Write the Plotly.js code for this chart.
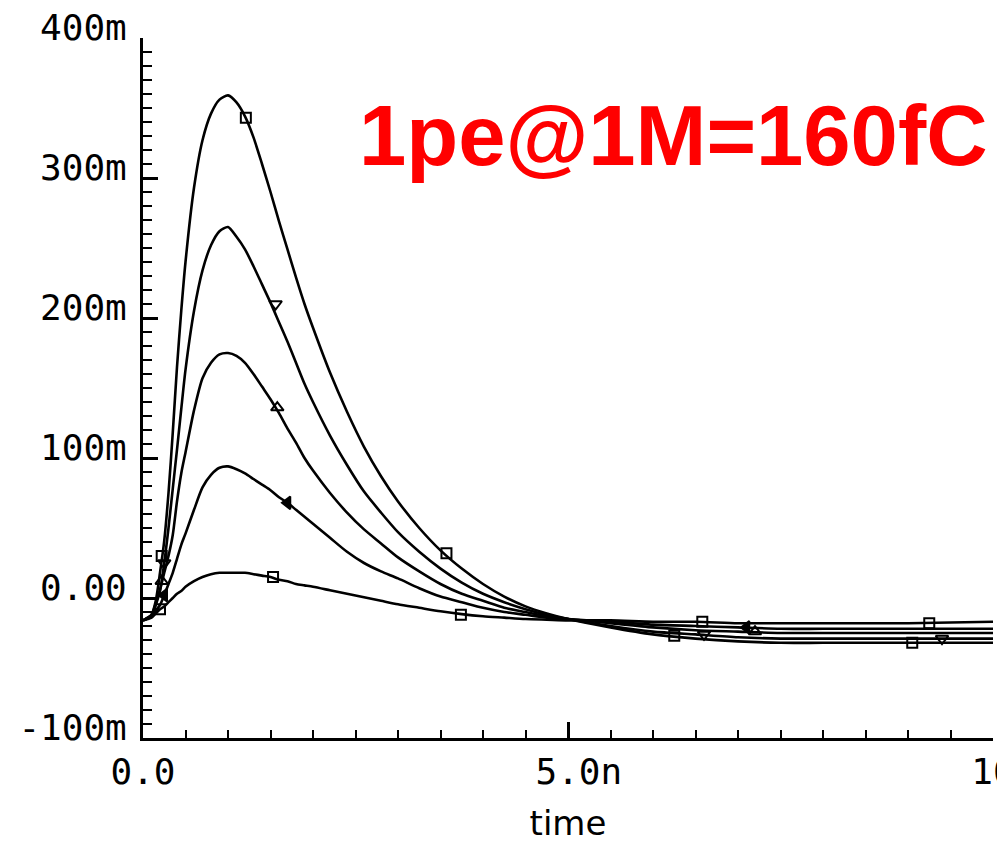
<!DOCTYPE html>
<html>
<head>
<meta charset="utf-8">
<script src="https://cdn.plot.ly/plotly-3.0.1.min.js"></script>
<style>html,body{margin:0;padding:0;background:#fff;}#chart{width:997px;height:843px;}</style>
</head>
<body>
<div id="chart"></div>
<script>
// time in ns
const time = [0, 0.1, 0.15, 0.2, 0.25, 0.3, 0.35, 0.4, 0.45, 0.5, 0.6, 0.7, 0.8, 0.9, 1.0, 1.1, 1.2, 1.3, 1.4, 1.5, 1.6, 1.7, 1.8, 1.9, 2.0, 2.2, 2.4, 2.6, 2.8, 3.0, 3.25, 3.5, 3.75, 4.0, 4.25, 4.5, 4.75, 5.0, 5.5, 6.0, 6.5, 7.0, 7.5, 8.0, 9.0, 10.0];
// outputs in mV (m)
const out1 = [-16, -12, -2, 18, 41, 75, 118, 165, 205, 240, 293, 327, 346, 356, 359, 354, 344, 329, 310, 290, 269, 249, 229, 210, 193, 161, 133, 108, 87, 69, 50, 34, 21, 10, 1, -6, -11, -15, -21, -26, -29, -31, -32, -32, -32, -32];
const out2 = [-16, -13, -5, 5, 25, 50, 78, 106, 135, 163, 205, 234, 252, 262, 265, 258, 249, 237, 224, 211, 197, 183, 168, 153, 140, 116, 95, 76, 61, 47, 33, 21, 11, 3, -3, -8, -12, -15, -20, -24, -26, -28, -29, -29, -29, -29];
const out3 = [-16, -12, -4, 6, 18, 30, 45, 69, 89, 104, 134, 157, 168, 174, 175, 173, 168, 160, 151, 142, 132, 121, 111, 100, 91, 75, 61, 49, 39, 29, 19, 10, 3, -2, -7, -10, -13, -15, -18, -21, -23, -24, -25, -25, -25, -25];
const out4 = [-16, -13, -9, -5, 2, 10, 18, 28, 38, 46, 63, 79, 88, 93, 94, 92, 89, 85, 81, 77, 72, 68, 63, 58, 53, 43, 33, 25, 19, 14, 7, 1, -3, -7, -10, -12, -14, -15, -17, -19, -20, -21, -22, -22, -22, -22];
const out5 = [-16, -14, -11, -8, -6, -3, 0, 3, 5, 8, 12, 15, 17, 18, 18, 18, 18, 17, 16, 15, 13, 12, 10, 9, 8, 5.5, 3, 0.5, -2, -4.5, -7, -9.5, -11.5, -13, -14, -15, -15.5, -16, -16, -17, -17, -18, -18, -18, -18, -17];

// marker positions (ns, mV)
const mk1T = [0.22, 1.21, 3.57, 6.25, 9.05];
const mk1Y = [30, 343, 32, -27, -32];
const mk2T = [0.25, 1.56, 6.6, 9.4];
const mk2Y = [25, 210, -26, -29];
const mk3T = [0.22, 1.58, 7.2];
const mk3Y = [12, 136, -24];
const mk4T = [0.25, 1.70, 7.1];
const mk4Y = [2, 68, -21];
const mk5T = [0.2, 1.53, 3.74, 6.58, 9.25];
const mk5Y = [-8, 15, -12, -17, -18];

const yTickVals = [-100, 0, 100, 200, 300, 400];
const yTickText = ["-100m", "0.00", "100m", "200m", "300m", "400m"];
const xTickVals = [0, 5, 10];
const xTickText = ["0.0", "\u00A05.0n", "\u00A010n"];
const titleText = "1pe@1M=160fC";
const xTitle = "time";

const lineStyle = {color: 'black', width: 2.6, shape: 'spline', smoothing: 0.7};
const series = [out1, out2, out3, out4, out5];
const traces = series.map(v => ({x: time, y: v, mode: 'lines', line: lineStyle, hoverinfo: 'skip'}));
const mks = [
  [mk1T, mk1Y, 'square-open', 10],
  [mk2T, mk2Y, 'triangle-down-open', 11],
  [mk3T, mk3Y, 'triangle-up-open', 11],
  [mk4T, mk4Y, 'triangle-left', 11],
  [mk5T, mk5Y, 'square-open', 10]
];
mks.forEach(m => traces.push({x: m[0], y: m[1], mode: 'markers',
  marker: {symbol: m[2], size: m[3], color: 'black', line: {color: 'black', width: 2}}, hoverinfo: 'skip'}));

const tickFont = {family: 'DejaVu Sans Mono', size: 36, color: 'black'};
const layout = {
  width: 997, height: 843,
  margin: {l: 143, r: 4, t: 38, b: 105},
  paper_bgcolor: 'white', plot_bgcolor: 'white',
  showlegend: false,
  xaxis: {
    range: [0, 10], showline: true, linewidth: 3, linecolor: 'black',
    showgrid: false, zeroline: false,
    tickmode: 'array', tickvals: xTickVals, ticktext: xTickText,
    ticks: 'inside', ticklen: 16, tickwidth: 3, tickcolor: 'black',
    tickfont: tickFont, ticklabelstandoff: 0, ticklabeloverflow: 'allow',
    minor: {tickmode: 'linear', tick0: 0, dtick: 0.5, ticks: 'inside', ticklen: 8, tickwidth: 2, tickcolor: 'black', showgrid: false},
    title: {text: xTitle, font: {family: 'DejaVu Sans', size: 34, color: 'black'}, standoff: 24},
    automargin: false
  },
  yaxis: {
    range: [-100, 400], showline: true, linewidth: 3, linecolor: 'black',
    showgrid: false, zeroline: false,
    tickmode: 'array', tickvals: yTickVals, ticktext: yTickText,
    ticks: 'inside', ticklen: 15, tickwidth: 3, tickcolor: 'black',
    tickfont: tickFont, ticklabelstandoff: 6, ticklabelshift: -11, ticklabeloverflow: 'allow',
    minor: {tickmode: 'linear', tick0: 0, dtick: 10, ticks: 'inside', ticklen: 9, tickwidth: 2, tickcolor: 'black', showgrid: false},
    automargin: false
  },
  annotations: [{
    text: '<b>' + titleText + '</b>', xref: 'paper', yref: 'paper',
    x: 0.624, y: 0.861, xanchor: 'center', yanchor: 'middle', showarrow: false,
    font: {family: 'Liberation Sans', size: 85, color: '#ff0000'}
  }]
};
Plotly.newPlot('chart', traces, layout, {displayModeBar: false, staticPlot: true});
</script>
</body>
</html>
